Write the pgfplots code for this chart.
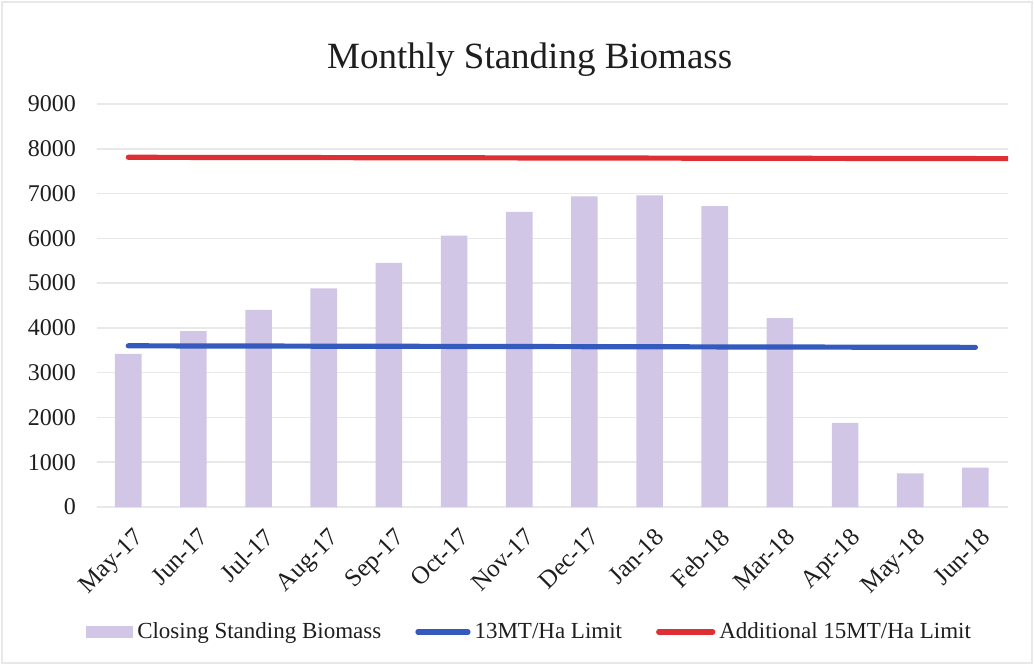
\documentclass[border=0pt]{standalone}
\usepackage{pgfplots}
\pgfplotsset{compat=1.18}
\usepackage{fontspec}
\setmainfont{Liberation Serif}
\definecolor{barc}{RGB}{210,198,230}
\definecolor{bluel}{RGB}{52,90,190}
\definecolor{redl}{RGB}{222,48,52}
\definecolor{gridc}{RGB}{232,232,232}
\definecolor{txt}{RGB}{30,30,30}
\begin{document}
\begin{tikzpicture}
\path[use as bounding box] (-48.5pt,-79pt) rectangle (468.5pt,253.5pt);
\draw[gray!18, line width=0.8pt] (-47.5pt,-78pt) rectangle (467.5pt,252.5pt);
\begin{axis}[
  at={(0pt,0pt)}, anchor=south west,
  scale only axis, width=455.5pt, height=201.5pt,
  xmin=-0.48, xmax=13.5,
  ymin=0, ymax=9000,
  ytick={0,1000,...,9000},
  ymajorgrids, grid style={gridc, line width=0.8pt},
  axis line style={draw=none}, major tick length=0pt,
  xtick={0,...,13},
  xticklabels={May-17,Jun-17,Jul-17,Aug-17,Sep-17,Oct-17,Nov-17,Dec-17,Jan-18,Feb-18,Mar-18,Apr-18,May-18,Jun-18},
  xticklabel style={rotate=45, anchor=north east, font=\fontsize{12.5}{14}\selectfont, text=txt, yshift=-5pt, xshift=-2pt},
  yticklabel style={font=\fontsize{12}{14}\selectfont, text=txt, xshift=-7pt},
  /pgf/number format/assume math mode=true,
  /pgf/number format/1000 sep={},
  title={Monthly Standing Biomass},
  title style={font=\fontsize{18.5}{22}\selectfont, text=txt, at={(0.475,1.08)}, anchor=center},
  legend columns=3,
  legend style={at={(0.476,-0.31)}, anchor=center, draw=none, fill=none,
    font=\fontsize{11.5}{13}\selectfont, text=txt,
    /tikz/every even column/.append style={column sep=15pt},
    /tikz/every odd column/.append style={column sep=0pt}},
]
\addplot[ybar, bar width=13.3pt, fill=barc, draw=none,
  legend image code/.code={\fill[barc] (0pt,-3pt) rectangle (23.5pt,3pt);}]
  coordinates {(0,3420) (1,3930) (2,4400) (3,4880) (4,5450) (5,6060) (6,6590)
               (7,6940) (8,6960) (9,6720) (10,4220) (11,1880) (12,750) (13,880)};
\addlegendentry{Closing Standing Biomass}
\addplot[bluel, line width=2.6pt, line cap=round,
  legend image code/.code={\draw[bluel, line width=2.6pt] (0pt,0pt) -- (25pt,0pt);}]
  coordinates {(0,3600) (13,3565)};
\addlegendentry{13MT/Ha Limit}
\addplot[redl, line width=2.6pt, line cap=round,
  legend image code/.code={\draw[redl, line width=2.6pt] (0pt,0pt) -- (27pt,0pt);}]
  coordinates {(0,7810) (13.5,7780)};
\addlegendentry{Additional 15MT/Ha Limit}
\end{axis}
\end{tikzpicture}
\end{document}
